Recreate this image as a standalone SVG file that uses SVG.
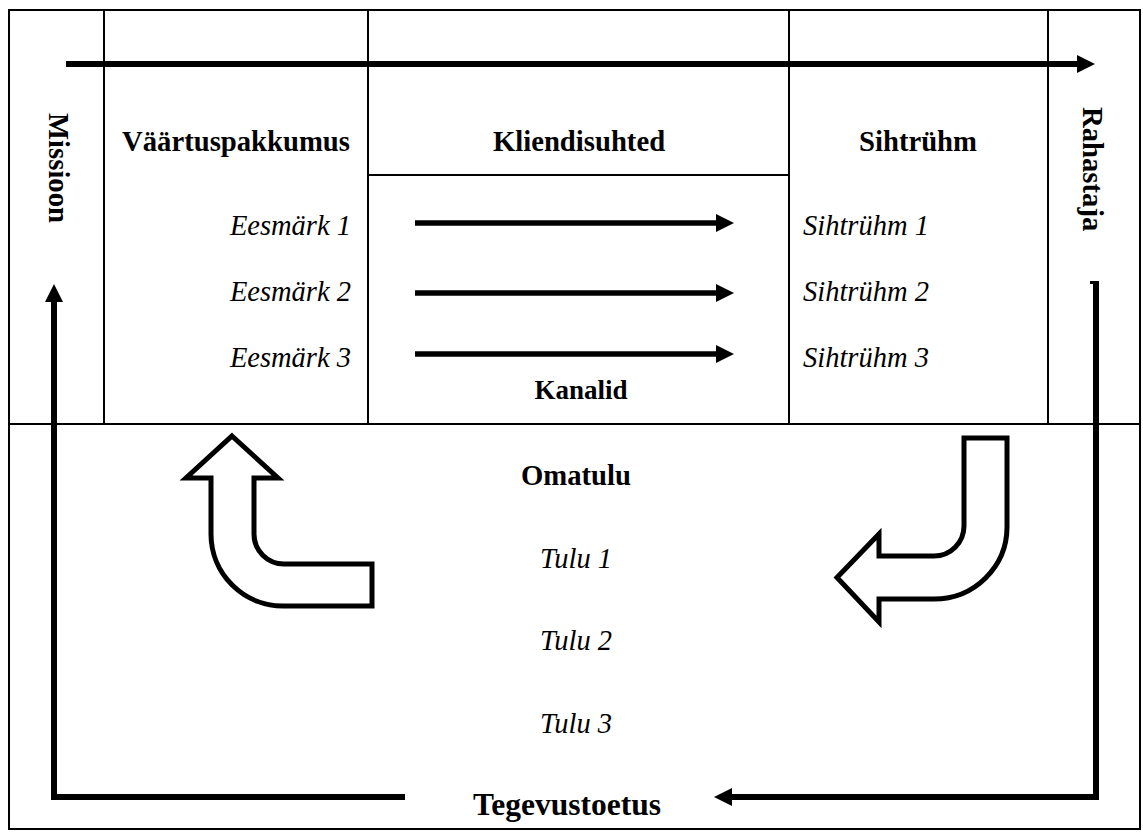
<svg xmlns="http://www.w3.org/2000/svg" width="1143" height="832" viewBox="0 0 1143 832">
  <style>
    .grid { stroke: #000; stroke-width: 2; fill: none; }
    .flow { stroke: #000; stroke-width: 6; fill: none; stroke-linejoin: miter; }
    .chan { stroke: #000; stroke-width: 5.5; fill: none; }
    .block { fill: #fff; stroke: #000; stroke-width: 5; stroke-linejoin: miter; }
    .hd { font-family: "Liberation Serif", "Times New Roman", serif; font-weight: bold; font-size: 28.7px; fill: #000; }
    .it { font-family: "Liberation Serif", "Times New Roman", serif; font-style: italic; font-size: 28.5px; fill: #000; }
  </style>
  <defs>
    <marker id="head" viewBox="0 -9 18 18" refX="1" refY="0" markerWidth="18" markerHeight="18" markerUnits="userSpaceOnUse" orient="auto">
      <path d="M0,-9 L18,0 L0,9 Z" fill="#000"/>
    </marker>
  </defs>

  <rect width="1143" height="832" fill="#fff"/>

  <!-- canvas grid -->
  <g id="grid" class="grid">
    <rect x="9" y="10" width="1131" height="819"/>
    <line x1="9" y1="424" x2="1140" y2="424"/>
    <line x1="104" y1="10" x2="104" y2="424"/>
    <line x1="368" y1="10" x2="368" y2="424"/>
    <line x1="789" y1="10" x2="789" y2="424"/>
    <line x1="1048" y1="10" x2="1048" y2="424"/>
    <line x1="368" y1="175" x2="789" y2="175"/>
  </g>

  <g id="missioon">
    <text class="hd" transform="translate(49,113) rotate(90)">Missioon</text>
  </g>
  <g id="rahastaja">
    <text class="hd" transform="translate(1083,107) rotate(90)">Rahastaja</text>
  </g>

  <g id="vaartuspakkumus">
    <text class="hd" x="236" y="151" text-anchor="middle">Väärtuspakkumus</text>
    <text class="it" x="351" y="235" text-anchor="end">Eesmärk 1</text>
    <text class="it" x="351" y="301" text-anchor="end">Eesmärk 2</text>
    <text class="it" x="351" y="367" text-anchor="end">Eesmärk 3</text>
  </g>

  <g id="kliendisuhted">
    <text class="hd" x="579" y="151" text-anchor="middle">Kliendisuhted</text>
  </g>

  <g id="kanalid">
    <text class="hd" x="581" y="399" text-anchor="middle" style="font-size:27px">Kanalid</text>
  </g>

  <g id="sihtruhm">
    <text class="hd" x="918" y="151" text-anchor="middle">Sihtrühm</text>
    <text class="it" x="803" y="235">Sihtrühm 1</text>
    <text class="it" x="803" y="301">Sihtrühm 2</text>
    <text class="it" x="803" y="367">Sihtrühm 3</text>
  </g>

  <g id="omatulu">
    <text class="hd" x="576" y="485" text-anchor="middle">Omatulu</text>
    <text class="it" x="576" y="568" text-anchor="middle">Tulu 1</text>
    <text class="it" x="576" y="650" text-anchor="middle">Tulu 2</text>
    <text class="it" x="576" y="733" text-anchor="middle">Tulu 3</text>
  </g>

  <g id="tegevustoetus">
    <text class="hd" x="567" y="815" text-anchor="middle" style="font-size:31.5px">Tegevustoetus</text>
  </g>

  <!-- connectors -->
  <g id="connectors">
    <line class="flow" x1="66" y1="64" x2="1078" y2="64" marker-end="url(#head)"/>
    <line class="chan" x1="415" y1="223" x2="717" y2="223" marker-end="url(#head)"/>
    <line class="chan" x1="415" y1="293" x2="717" y2="293" marker-end="url(#head)"/>
    <line class="chan" x1="415" y1="354" x2="717" y2="354" marker-end="url(#head)"/>
    <polyline class="flow" points="405,797 54,797 54,301" marker-end="url(#head)"/>
    <polyline class="flow" points="1096,281 1096,797 731,797" marker-end="url(#head)"/>
    <rect x="1090" y="281" width="6" height="3" fill="#000"/>
    <path class="block" d="M232,436 L278,478 L254,478 L254,534 A30,30 0 0 0 284,564 L372,564 L372,606 L284,606 A72,72 0 0 1 211,534 L211,478 L186,478 Z"/>
    <path class="block" d="M964,438 L1007,438 L1007,527 A73,72 0 0 1 934,599 L879,599 L879,622 L837,577.5 L879,534 L879,556 L934,556 A30,30 0 0 0 964,526 Z"/>
  </g>
</svg>
